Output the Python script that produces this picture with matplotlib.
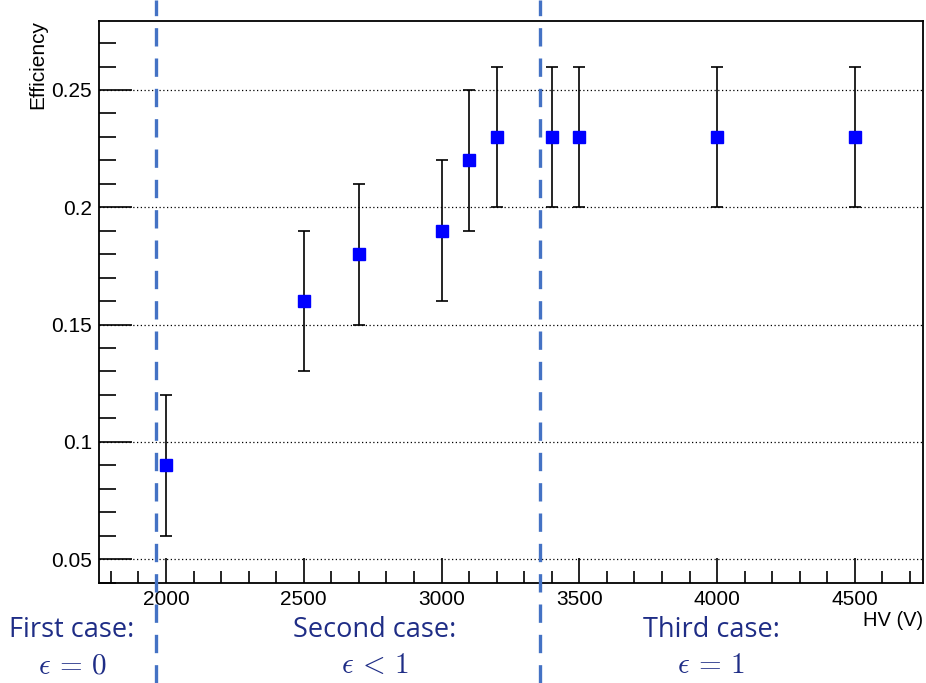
import matplotlib.pyplot as plt
from matplotlib.lines import Line2D
from matplotlib.ticker import MultipleLocator

plt.rcParams['font.family'] = ['Liberation Sans', 'DejaVu Sans']

# datos
hv = [2000, 2500, 2700, 3000, 3100, 3200, 3400, 3500, 4000, 4500]
eficiencia = [0.09, 0.16, 0.18, 0.19, 0.22, 0.23, 0.23, 0.23, 0.23, 0.23]
error = [0.03, 0.03, 0.03, 0.03, 0.03, 0.03, 0.03, 0.03, 0.03, 0.03]

cortes_hv = [1964, 3358]
casos = ["First case:", "Second case:", "Third case:"]
epsilons = [r"$\epsilon\,=\,0$", r"$\epsilon\,<\,1$", r"$\epsilon\,=\,1$"]
pos_casos = [72, 375, 711]

W, H = 926, 683
fig = plt.figure(figsize=(W / 100, H / 100), dpi=100)
ax = fig.add_axes([99 / W, 1 - 583 / H, (923 - 99) / W, (583 - 21) / H])

ax.errorbar(hv, eficiencia, yerr=error, fmt="s", color="blue", markersize=8.5,
            ecolor="black", elinewidth=1.2, capsize=4, capthick=1.2, zorder=3)

ax.set_xlim(1757, 4747)
ax.set_ylim(0.0398, 0.2794)
ax.xaxis.set_major_locator(MultipleLocator(500))
ax.xaxis.set_minor_locator(MultipleLocator(100))
ax.yaxis.set_minor_locator(MultipleLocator(0.01))
ax.set_yticks([0.05, 0.1, 0.15, 0.2, 0.25])
ax.set_yticklabels(["0.05", "0.1", "0.15", "0.2", "0.25"])
ax.tick_params(which="both", direction="in", width=1.2, labelsize=15)
ax.tick_params(which="major", length=18)
ax.tick_params(which="minor", length=9)
ax.tick_params(axis="x", which="major", pad=5)
ax.tick_params(axis="y", which="major", length=24, pad=5)
ax.tick_params(axis="y", which="minor", length=12)
ax.grid(axis="y", which="major", linestyle=(0, (1, 2)), color="black", linewidth=0.9)
for s in ax.spines.values():
    s.set_linewidth(1.3)

fig.text(38 / W, 1 - 20 / H, "Efficiency", rotation=90, ha="center", va="top", fontsize=15)
fig.text(923 / W, 1 - 620 / H, "HV (V)", ha="right", va="center", fontsize=14.5)

# líneas de corte
for c in cortes_hv:
    xf = ax.transData.transform((c, 0))[0] / W
    fig.add_artist(Line2D([xf, xf], [0, 1], transform=fig.transFigure, color="#4472C4",
                          linewidth=2.4, dashes=(5.5, 3.6)))

for i in range(len(casos)):
    fig.text(pos_casos[i] / W, 1 - 630 / H, casos[i], ha="center", va="center",
             fontsize=19.5, color="#1F2D86", family="Open Sans")
    fig.text(pos_casos[i] / W, 1 - 665 / H, epsilons[i], ha="center", va="center",
             fontsize=21, color="#1F2D86", math_fontfamily="cm")

fig.savefig("out.png", dpi=100)
